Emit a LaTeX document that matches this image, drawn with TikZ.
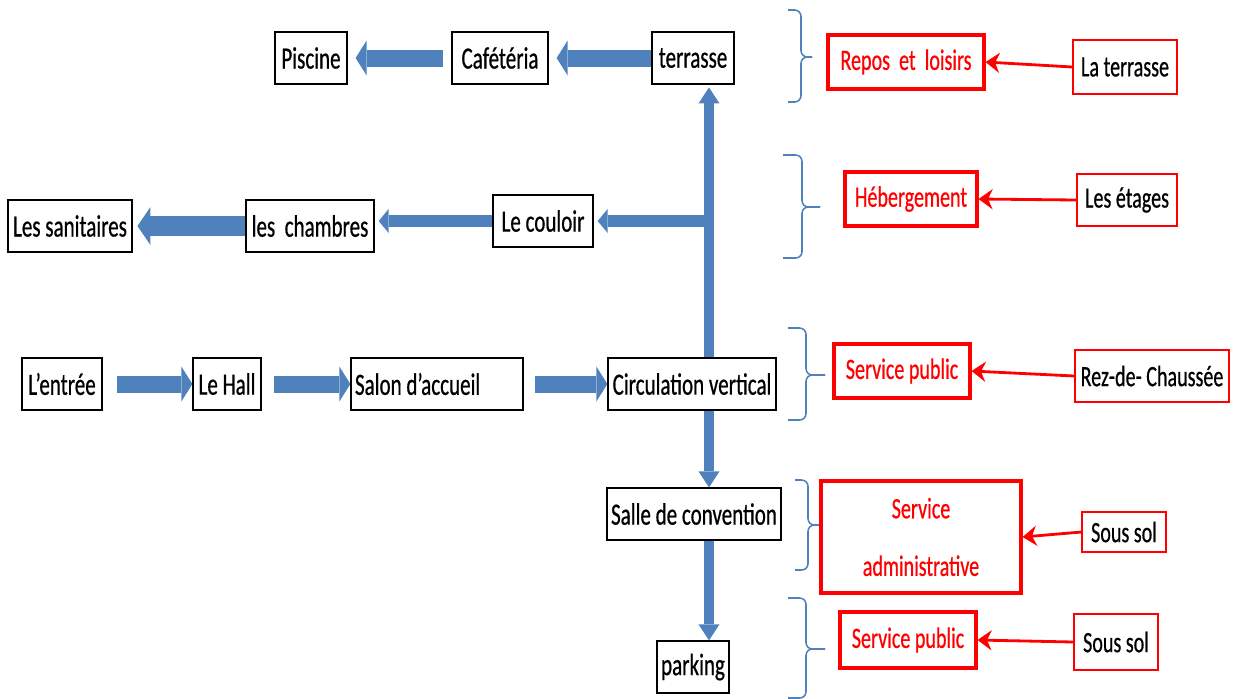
\documentclass[tikz,border=0pt]{standalone}
\usepackage{fontspec}
\setmainfont[FakeStretch=0.68,FakeBold=0.6]{Carlito}
\usepackage{xcolor}
\definecolor{cBlue}{HTML}{4F81BD}
\definecolor{cRed}{HTML}{FF0000}
\usepackage{tikz}
\usetikzlibrary{arrows.meta,shadows}
\tikzset{
  node-box/.style={draw=black,line width=0.9pt,minimum height=13mm,inner sep=1mm,fill=white,
    drop shadow={shadow xshift=0.3mm,shadow yshift=-0.35mm,fill=black!55,opacity=1},
    align=center,font=\fontsize{22}{26}\selectfont},
  node-zone/.style={draw=cRed,line width=2.2pt,minimum height=13.5mm,inner sep=1mm,
    align=center,text=cRed,font=\fontsize{21}{25}\selectfont},
  node-level/.style={draw=cRed,line width=0.9pt,minimum height=13mm,inner sep=1mm,
    align=center,font=\fontsize{21}{25}\selectfont},
  arrow-block/.style={-{Triangle[length=2.75mm,width=8.75mm,line width=0pt]},line width=4.25mm,draw=cBlue},
  arrow-wide/.style={-{Triangle[length=3.25mm,width=9.5mm,line width=0pt]},line width=5mm,draw=cBlue},
  arrow-thin/.style={-{Triangle[length=2.5mm,width=6mm,line width=0pt]},line width=3mm,draw=cBlue},
  arrow-trunk/.style={-{Triangle[length=4mm,width=5.25mm,line width=0pt]},line width=2.5mm,draw=cBlue},
  arrow-red/.style={-{Stealth[length=3.5mm,width=5mm]},line width=2pt,draw=cRed},
  brace-blue/.style={draw=cBlue,line width=1.1pt,rounded corners=1.6mm},
}

\begin{document}
\begin{tikzpicture}[x=0.25mm,y=-0.25mm]
  \useasboundingbox (0,0) rectangle (1239,698);
  % parcours
  \node[node-box,minimum width=18mm] (piscine) at (311,58) {Piscine};
  \node[node-box,minimum width=24mm] (cafe) at (500,58) {Cafétéria};
  \node[node-box,minimum width=20.5mm] (terrasse) at (693,58) {terrasse};
  \node[node-box,minimum width=31mm] (sanitaires) at (70,226) {Les sanitaires};
  \node[node-box,minimum width=32mm] (chambres) at (310,226) {les~ chambres};
  \node[node-box,minimum width=25mm] (couloir) at (543,221) {Le couloir};
  \node[node-box,minimum width=20mm] (entree) at (62,384) {L’entrée};
  \node[node-box,minimum width=17mm] (hall) at (227,384) {Le Hall};
  \node[node-box] (salon) at (437,384) {\makebox[41mm][l]{Salon d’accueil}};
  \node[node-box,minimum width=42mm] (circ) at (692,384) {Circulation vertical};
  \node[node-box,minimum width=43mm] (salle) at (694,514) {Salle de convention};
  \node[node-box,minimum width=15mm] (parking) at (693,667) {parking};

  \draw[arrow-block,shorten <=2mm,shorten >=2mm] (cafe.west) -- (piscine.east);
  \draw[arrow-block,shorten >=2mm] (terrasse.west) -- (cafe.east);
  \draw[arrow-wide,shorten >=1.2mm] (chambres.west) -- (sanitaires.east);
  \draw[arrow-thin,shorten >=1mm] (couloir.west) -- (couloir.west -| chambres.east);
  \draw[arrow-block,shorten <=3.5mm] (entree.east) -- (hall.west);
  \draw[arrow-block,shorten <=3.2mm] (hall.east) -- (salon.west);
  \draw[arrow-block,shorten <=2.8mm] (salon.east) -- (circ.west);

  \coordinate (trunk) at ([xshift=4.25mm]circ.north);
  \draw[arrow-trunk,shorten >=0.7mm] (trunk) -- (trunk |- terrasse.south);
  \draw[arrow-thin,shorten >=1mm] (trunk |- couloir.east) -- (couloir.east);
  \draw[arrow-trunk] ([xshift=4.25mm]circ.south) -- (trunk |- salle.north);
  \draw[arrow-trunk] (trunk |- salle.south) -- (trunk |- parking.north);

  % accolades
  \foreach \xb/\xm/\xt/\ytop/\ymid/\ybot in {788/801/812/10/57/102, 783/802/820/155/207/258,
      788/806/825/328/375/420, 795/808/820/480/525/570, 788/806/825/598/649/698} {
    \draw[brace-blue] (\xb,\ytop) -- (\xm,\ytop) -- (\xm,\ymid) -- (\xt,\ymid);
    \draw[brace-blue] (\xb,\ybot) -- (\xm,\ybot) -- (\xm,\ymid) -- (\xt,\ymid);
  }

  \node[node-zone,minimum width=39mm] (repos) at (906,62) {Repos~ et~ loisirs};
  \node[node-zone,minimum width=33mm] (heberg) at (911,199) {Hébergement};
  \node[node-zone,minimum width=34mm] (public) at (902,371) {Service public};
  \node[node-zone,minimum width=50mm,minimum height=28mm] (admin) at (921,537) {Service\\[5.6mm]administrative};
  \node[node-zone,minimum width=34mm,minimum height=14mm] (public2) at (908,640) {Service public};

  \node[node-level,minimum width=26mm,minimum height=13.5mm] (lvlTerr) at (1125,67) {La terrasse};
  \node[node-level,minimum width=25mm] (lvlEtages) at (1127,200) {Les étages};
  \node[node-level,minimum width=38.5mm] (lvlRdc) at (1152,376) {Rez-de- Chaussée};
  \node[node-level,minimum width=21mm,minimum height=10mm] (lvlSous) at (1124,532) {Sous sol};
  \node[node-level,minimum width=21mm,minimum height=14mm] (lvlSous2) at (1116,642) {Sous sol};

  \foreach \src/\dst in {lvlTerr/repos, lvlEtages/heberg, lvlRdc/public, lvlSous/admin, lvlSous2/public2}
    \draw[arrow-red] (\src.west) -- (\dst.east);
\end{tikzpicture}
\end{document}
